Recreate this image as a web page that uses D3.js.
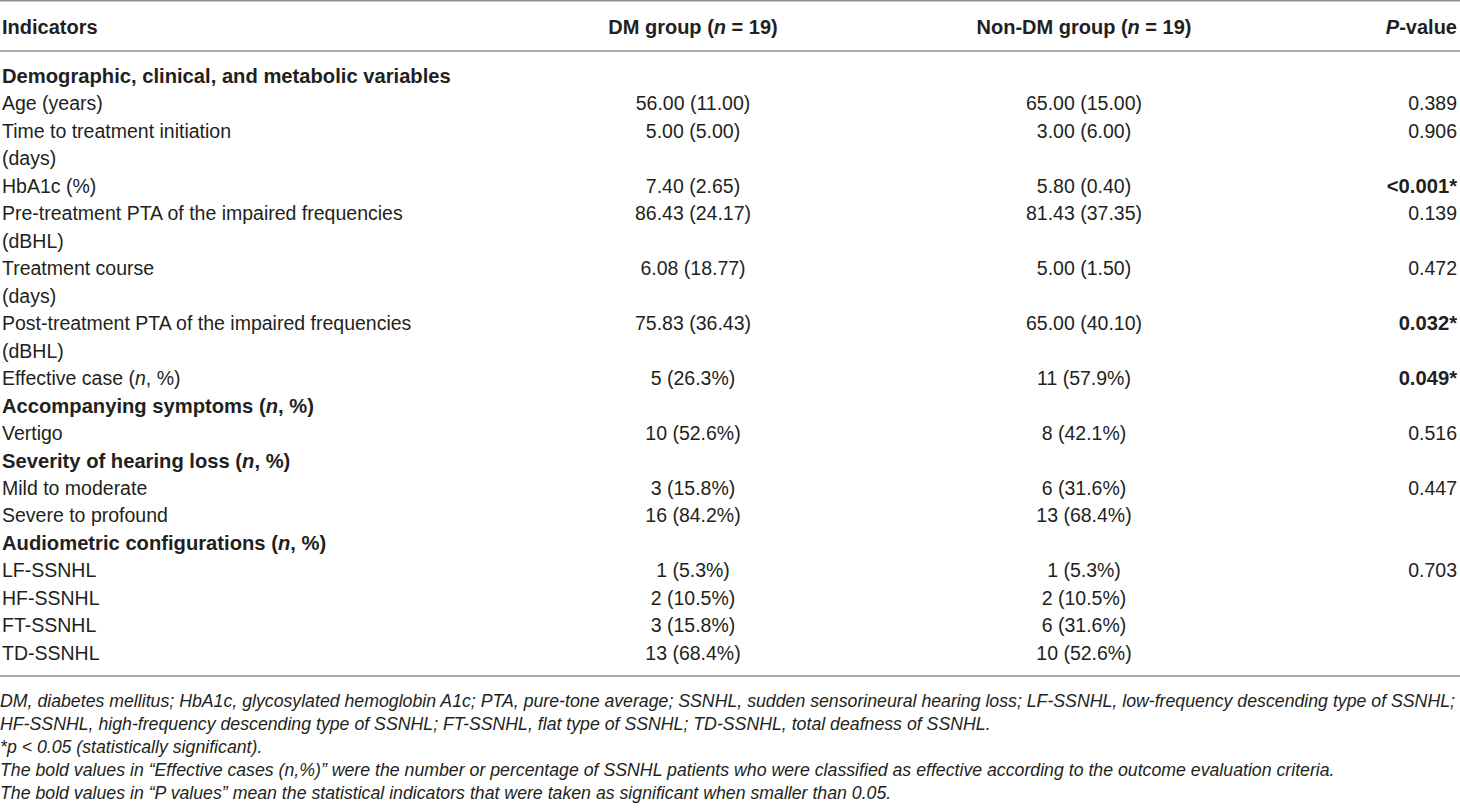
<!DOCTYPE html>
<html>
<head>
<meta charset="utf-8">
<script src="https://cdn.jsdelivr.net/npm/d3@7/dist/d3.min.js"></script>
<style>
  body { margin: 0; background: #fff; }
  svg { display: block; }
  text { font-family: "Liberation Sans", Arial, Helvetica, sans-serif; fill: #231f20; }
</style>
</head>
<body>
<script>
// table contents, one entry per printed line ("_" marks italic parts)
var headers = ["Indicators", "DM group (_n_ = 19)", "Non-DM group (_n_ = 19)", "_P_-value"];

var indicators = [
  "Demographic, clinical, and metabolic variables",
  "Age (years)",
  "Time to treatment initiation",
  "(days)",
  "HbA1c (%)",
  "Pre-treatment PTA of the impaired frequencies",
  "(dBHL)",
  "Treatment course",
  "(days)",
  "Post-treatment PTA of the impaired frequencies",
  "(dBHL)",
  "Effective case (_n_, %)",
  "Accompanying symptoms (_n_, %)",
  "Vertigo",
  "Severity of hearing loss (_n_, %)",
  "Mild to moderate",
  "Severe to profound",
  "Audiometric configurations (_n_, %)",
  "LF-SSNHL",
  "HF-SSNHL",
  "FT-SSNHL",
  "TD-SSNHL"
];
// rows that are section headings
var sections = [0, 12, 14, 17];

var dmValues = ["", "56.00 (11.00)", "5.00 (5.00)", "", "7.40 (2.65)", "86.43 (24.17)", "",
  "6.08 (18.77)", "", "75.83 (36.43)", "", "5 (26.3%)", "", "10 (52.6%)", "", "3 (15.8%)",
  "16 (84.2%)", "", "1 (5.3%)", "2 (10.5%)", "3 (15.8%)", "13 (68.4%)"];

var nonDmValues = ["", "65.00 (15.00)", "3.00 (6.00)", "", "5.80 (0.40)", "81.43 (37.35)", "",
  "5.00 (1.50)", "", "65.00 (40.10)", "", "11 (57.9%)", "", "8 (42.1%)", "", "6 (31.6%)",
  "13 (68.4%)", "", "1 (5.3%)", "2 (10.5%)", "6 (31.6%)", "10 (52.6%)"];

var pValues = ["", "0.389", "0.906", "", "<0.001*", "0.139", "", "0.472", "", "0.032*", "",
  "0.049*", "", "0.516", "", "0.447", "", "", "0.703", "", "", ""];
var pBold = [4, 9, 11];

var footnotes = [
  "DM, diabetes mellitus; HbA1c, glycosylated hemoglobin A1c; PTA, pure-tone average; SSNHL, sudden sensorineural hearing loss; LF-SSNHL, low-frequency descending type of SSNHL;",
  "HF-SSNHL, high-frequency descending type of SSNHL; FT-SSNHL, flat type of SSNHL; TD-SSNHL, total deafness of SSNHL.",
  "*p < 0.05 (statistically significant).",
  "The bold values in \u201cEffective cases (n,%)\u201d were the number or percentage of SSNHL patients who were classified as effective according to the outcome evaluation criteria.",
  "The bold values in \u201cP values\u201d mean the statistical indicators that were taken as significant when smaller than 0.05."
];

var width = 1460, height = 811;

var svg = d3.select("body").append("svg")
  .attr("width", width)
  .attr("height", height);

// vertical positions of the body lines
var y = d3.scaleLinear().domain([0, indicators.length - 1]).range([76, 653]);
// column anchors: label left, two centred groups, p-value right
var colX = d3.scaleOrdinal().domain([0, 1, 2, 3]).range([2, 693, 1084, 1457]);
var colAnchor = ["start", "middle", "middle", "end"];

// write a string with "_" toggling italic into a text element
function richText(sel, str) {
  str.split("_").forEach(function(part, i) {
    if (part === "") return;
    sel.append("tspan")
      .style("font-style", i % 2 ? "italic" : "normal")
      .text(part);
  });
}

// rules
[0.75, 51, 676].forEach(function(ry) {
  svg.append("line")
    .attr("x1", 0).attr("x2", width)
    .attr("y1", ry).attr("y2", ry)
    .attr("stroke", "#8f8f8f")
    .attr("stroke-width", 1.5);
});

// header row
headers.forEach(function(h, i) {
  var t = svg.append("text")
    .attr("x", colX(i))
    .attr("y", 27)
    .attr("dy", "0.35em")
    .attr("text-anchor", colAnchor[i])
    .style("font-size", "20px")
    .style("font-weight", "bold");
  richText(t, h);
});

// body rows
var rows = svg.append("g").selectAll("g")
  .data(indicators)
  .enter().append("g")
  .attr("transform", function(d, i) { return "translate(0," + y(i) + ")"; });

rows.each(function(d, i) {
  var g = d3.select(this);
  var isSection = sections.indexOf(i) >= 0;
  var cells = [d, dmValues[i], nonDmValues[i], pValues[i]];
  cells.forEach(function(c, j) {
    if (!c) return;
    var bold = (j === 0 && isSection) || (j === 3 && pBold.indexOf(i) >= 0);
    var t = g.append("text")
      .attr("x", colX(j))
      .attr("dy", "0.35em")
      .attr("text-anchor", colAnchor[j])
      .style("font-size", bold ? "20.2px" : "19.5px")
      .style("font-weight", bold ? "bold" : "normal");
    richText(t, c);
  });
});

// footnotes, squeezed horizontally to the printed width
var fy = d3.scaleLinear().domain([0, footnotes.length - 1]).range([700, 792]);
var notes = svg.append("g").selectAll("text")
  .data(footnotes)
  .enter().append("text")
  .attr("x", 0)
  .attr("y", function(d, i) { return fy(i); })
  .attr("dy", "0.35em")
  .style("font-size", "19px")
  .style("font-style", "italic")
  .text(function(d) { return d; });

var natural = notes.nodes()[0].getComputedTextLength();
var sx = 1456 / natural;
notes.attr("transform", "scale(" + sx + ",1)");
</script>
</body>
</html>
